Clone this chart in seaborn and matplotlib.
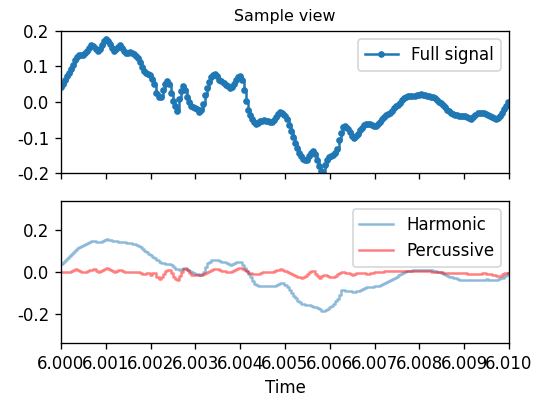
import numpy as np
import pandas as pd
import seaborn as sns
import matplotlib.pyplot as plt
from matplotlib.ticker import FormatStrFormatter

# samples, 22050 Hz, starting at t = 6.000 s
sr = 22050
t0 = 6.0

full = [
    0.041, 0.051, 0.062, 0.072, 0.082, 0.092, 0.104, 0.119, 0.128, 0.131,
    0.132, 0.133, 0.137, 0.143, 0.153, 0.160, 0.157, 0.150, 0.144, 0.150,
    0.160, 0.171, 0.178, 0.173, 0.162, 0.152, 0.145, 0.149, 0.156, 0.160,
    0.152, 0.144, 0.138, 0.139, 0.141, 0.138, 0.135, 0.130, 0.123, 0.113,
    0.098, 0.087, 0.083, 0.080, 0.077, 0.066, 0.050, 0.025, 0.013, 0.015,
    0.033, 0.052, 0.060, 0.052, 0.025, 0.004, -0.012, -0.026, 0.008, 0.030,
    0.044, 0.033, 0.014, 0.000, -0.011, -0.015, -0.018, -0.021, -0.027, -0.022,
    -0.005, 0.020, 0.040, 0.056, 0.070, 0.076, 0.080, 0.072, 0.063, 0.058,
    0.053, 0.048, 0.044, 0.039, 0.042, 0.051, 0.062, 0.071, 0.073, 0.062,
    0.035, 0.004, -0.022, -0.036, -0.047, -0.056, -0.062, -0.058, -0.053, -0.053,
    -0.052, -0.053, -0.054, -0.055, -0.057, -0.050, -0.042, -0.035, -0.029, -0.030,
    -0.036, -0.048, -0.064, -0.081, -0.099, -0.115, -0.130, -0.145, -0.153, -0.160,
    -0.162, -0.162, -0.153, -0.144, -0.138, -0.147, -0.164, -0.181, -0.194, -0.203,
    -0.177, -0.162, -0.154, -0.151, -0.148, -0.145, -0.131, -0.108, -0.088, -0.071,
    -0.068, -0.074, -0.084, -0.096, -0.101, -0.097, -0.089, -0.080, -0.072, -0.066,
    -0.063, -0.062, -0.062, -0.065, -0.068, -0.067, -0.061, -0.055, -0.049, -0.043,
    -0.037, -0.034, -0.030, -0.026, -0.017, -0.012, -0.008, -0.002, 0.005, 0.011,
    0.015, 0.018, 0.018, 0.017, 0.017, 0.019, 0.021, 0.023, 0.021, 0.019,
    0.017, 0.016, 0.015, 0.013, 0.011, 0.007, 0.001, -0.003, -0.009, -0.015,
    -0.022, -0.026, -0.030, -0.033, -0.036, -0.038, -0.040, -0.040, -0.040, -0.040,
    -0.042, -0.044, -0.047, -0.042, -0.036, -0.032, -0.031, -0.031, -0.031, -0.034,
    -0.037, -0.040, -0.043, -0.045, -0.047, -0.044, -0.039, -0.032, -0.021, -0.010,
    0.000,
]

harmonic = [
    0.037, 0.047, 0.057, 0.066, 0.076, 0.086, 0.095, 0.104, 0.113, 0.121,
    0.126, 0.130, 0.135, 0.139, 0.143, 0.146, 0.146, 0.145, 0.144, 0.145,
    0.149, 0.153, 0.156, 0.154, 0.151, 0.149, 0.146, 0.146, 0.145, 0.145,
    0.144, 0.143, 0.141, 0.139, 0.137, 0.135, 0.132, 0.129, 0.126, 0.119,
    0.110, 0.100, 0.094, 0.087, 0.080, 0.073, 0.065, 0.056, 0.050, 0.045,
    0.041, 0.040, 0.039, 0.038, 0.032, 0.023, 0.015, 0.012, 0.008, 0.014,
    0.021, 0.017, 0.011, 0.005, 0.001, -0.004, -0.008, -0.012, -0.016, -0.008,
    0.000, 0.022, 0.042, 0.049, 0.055, 0.057, 0.057, 0.057, 0.054, 0.050,
    0.046, 0.041, 0.037, 0.034, 0.038, 0.043, 0.046, 0.047, 0.046, 0.034,
    0.021, 0.007, -0.008, -0.026, -0.042, -0.056, -0.063, -0.065, -0.066, -0.066,
    -0.067, -0.067, -0.067, -0.067, -0.067, -0.067, -0.062, -0.057, -0.053, -0.055,
    -0.062, -0.070, -0.084, -0.099, -0.113, -0.126, -0.138, -0.145, -0.151, -0.155,
    -0.156, -0.156, -0.158, -0.162, -0.167, -0.169, -0.172, -0.178, -0.185, -0.189,
    -0.183, -0.177, -0.169, -0.161, -0.152, -0.141, -0.127, -0.108, -0.088, -0.087,
    -0.089, -0.091, -0.093, -0.095, -0.094, -0.092, -0.090, -0.086, -0.082, -0.078,
    -0.074, -0.073, -0.071, -0.070, -0.069, -0.068, -0.067, -0.062, -0.057, -0.052,
    -0.048, -0.043, -0.039, -0.034, -0.028, -0.022, -0.016, -0.011, -0.006, -0.001,
    0.003, 0.005, 0.007, 0.008, 0.009, 0.010, 0.010, 0.011, 0.011, 0.010,
    0.010, 0.009, 0.008, 0.006, 0.004, 0.002, -0.001, -0.005, -0.010, -0.014,
    -0.018, -0.022, -0.026, -0.029, -0.031, -0.034, -0.036, -0.037, -0.038, -0.039,
    -0.040, -0.040, -0.039, -0.039, -0.038, -0.038, -0.037, -0.037, -0.036, -0.035,
    -0.036, -0.037, -0.037, -0.038, -0.036, -0.033, -0.030, -0.027, -0.020, -0.013,
    -0.006,
]

percussive = [
    0.000, 0.000, 0.000, 0.000, 0.002, 0.004, 0.008, 0.012, 0.011, 0.005,
    0.001, -0.001, -0.002, 0.003, 0.008, 0.011, 0.013, 0.006, 0.000, 0.003,
    0.008, 0.014, 0.019, 0.015, 0.011, 0.005, -0.001, 0.004, 0.009, 0.010,
    0.003, 0.000, -0.002, -0.001, 0.000, 0.000, 0.000, 0.000, 0.000, -0.004,
    -0.009, -0.009, -0.003, -0.006, -0.013, -0.007, -0.005, -0.024, -0.032, -0.022,
    -0.010, 0.004, 0.011, 0.010, -0.005, -0.022, -0.035, -0.040, -0.020, -0.002,
    0.012, 0.015, 0.008, -0.005, -0.013, -0.013, -0.013, -0.014, -0.015, -0.015,
    -0.009, -0.003, 0.001, 0.005, 0.010, 0.015, 0.016, 0.013, 0.009, 0.006,
    0.003, 0.000, 0.000, 0.000, 0.004, 0.008, 0.013, 0.018, 0.020, 0.016,
    0.010, 0.003, -0.003, -0.007, -0.010, -0.011, -0.011, -0.008, -0.004, 0.000,
    0.000, 0.000, -0.001, -0.002, -0.002, 0.003, 0.008, 0.011, 0.013, 0.008,
    0.003, -0.001, -0.006, -0.011, -0.015, -0.019, -0.022, -0.025, -0.027, -0.024,
    -0.021, -0.011, 0.000, 0.005, 0.005, -0.010, -0.020, -0.027, -0.020, -0.013,
    -0.014, -0.018, -0.022, -0.025, -0.026, -0.018, -0.011, -0.005, 0.000, -0.001,
    -0.003, -0.006, -0.011, -0.014, -0.010, -0.007, -0.005, -0.004, -0.004, -0.007,
    -0.011, -0.008, -0.005, -0.003, -0.001, 0.000, 0.000, 0.001, 0.002, 0.003,
    0.004, 0.005, 0.005, 0.005, 0.005, 0.006, 0.005, 0.005, 0.004, 0.005,
    0.006, 0.005, 0.005, 0.004, 0.005, 0.006, 0.005, 0.005, 0.005, 0.005,
    0.004, 0.003, 0.002, 0.001, 0.000, -0.001, -0.001, -0.002, -0.003, -0.003,
    -0.004, -0.004, -0.005, -0.006, -0.006, -0.006, -0.005, -0.006, -0.006, -0.007,
    -0.008, -0.009, -0.010, -0.011, -0.010, -0.009, -0.008, -0.007, -0.006, -0.008,
    -0.010, -0.011, -0.013, -0.015, -0.017, -0.018, -0.019, -0.012, -0.006, -0.005,
    -0.005,
]

xtick_labels = ['6.000', '6.001', '6.002', '6.003', '6.004', '6.005',
                '6.006', '6.007', '6.008', '6.009', '6.010']

df = pd.DataFrame({'full': full, 'harmonic': harmonic, 'percussive': percussive})
df['time'] = t0 + np.arange(len(df)) / sr

plt.style.use('default')
plt.rcParams['font.family'] = ['DejaVu Sans']
plt.rcParams['font.size'] = 10

fig, ax = plt.subplots(nrows=2, sharex=True, figsize=(4.525, 3.35), dpi=120)
fig.subplots_adjust(left=0.1123, right=0.9374, top=0.9229, bottom=0.1468, hspace=0.197)

# top panel: full signal with a dot on every sample
sns.lineplot(data=df, x='time', y='full', ax=ax[0], color='C0', marker='.',
             markeredgecolor='C0', markeredgewidth=1.0, drawstyle='steps-post',
             linewidth=1.5, label='Full signal')
ax[0].set(xlim=[6.0, 6.01], ylim=[-0.2, 0.2], xlabel='', ylabel='')
ax[0].set_title('Sample view', fontsize=9.5)
ax[0].set_yticks([-0.2, -0.1, 0.0, 0.1, 0.2])
ax[0].yaxis.set_major_formatter(FormatStrFormatter('%.1f'))
ax[0].legend(loc='upper right')
ax[0].tick_params(labelbottom=False)

# bottom panel: harmonic / percussive parts
sns.lineplot(data=df, x='time', y='harmonic', ax=ax[1], color='C0', alpha=0.5,
             drawstyle='steps-post', linewidth=1.5, label='Harmonic')
sns.lineplot(data=df, x='time', y='percussive', ax=ax[1], color='r', alpha=0.5,
             drawstyle='steps-post', linewidth=1.5, label='Percussive')
ax[1].set_ylim(-0.34, 0.34)
ax[1].set_yticks([-0.2, 0.0, 0.2])
ax[1].yaxis.set_major_formatter(FormatStrFormatter('%.1f'))
ax[1].set_xticks(t0 + np.arange(len(xtick_labels)) * 0.001)
ax[1].set_xticklabels(xtick_labels)
ax[1].set_xlabel('Time')
ax[1].set_ylabel('')
ax[1].legend(loc='upper right')

fig.savefig('out.png', dpi=120)
